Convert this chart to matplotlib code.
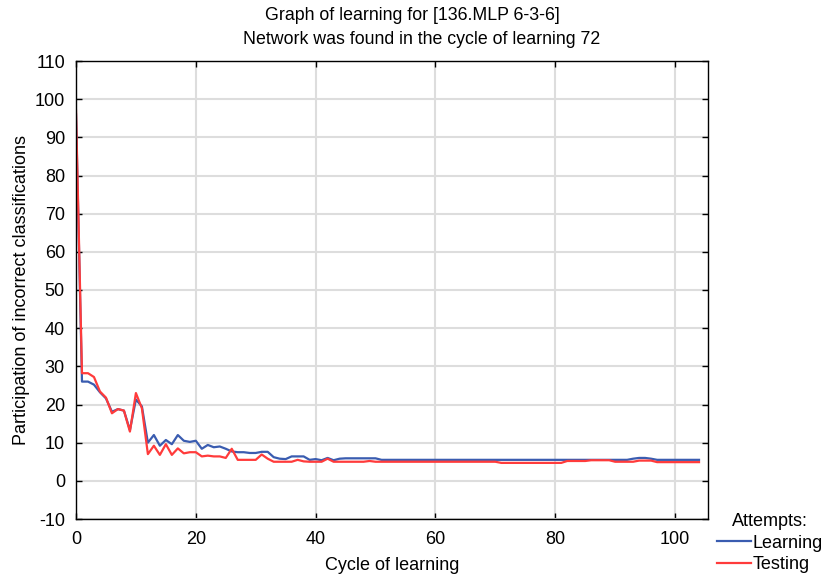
import matplotlib
matplotlib.use("Agg")
import matplotlib.pyplot as plt

plt.rcParams["font.family"] = ["Liberation Sans", "DejaVu Sans"]
plt.rcParams["axes.unicode_minus"] = False

cycles = list(range(105))

learning = [
    96, 26.0, 26.0, 25.2, 23.2, 21.6, 18.1, 18.8, 18.4, 13.3,
    21.3, 19.5, 10.0, 12.0, 9.2, 10.7, 9.6, 12.0, 10.5, 10.2,
    10.5, 8.4, 9.4, 8.8, 9.0, 8.4, 7.7, 7.5, 7.5, 7.3,
    7.3, 7.6, 7.6, 6.2, 5.8, 5.7, 6.4, 6.4, 6.4, 5.5,
    5.7, 5.4, 6.0, 5.4, 5.8, 5.9, 5.9, 5.9, 5.9, 5.9,
    5.9, 5.5, 5.5, 5.5, 5.5, 5.5, 5.5, 5.5, 5.5, 5.5,
    5.5, 5.5, 5.5, 5.5, 5.5, 5.5, 5.5, 5.5, 5.5, 5.5,
    5.5, 5.5, 5.5, 5.5, 5.5, 5.5, 5.5, 5.5, 5.5, 5.5,
    5.5, 5.5, 5.5, 5.5, 5.5, 5.5, 5.5, 5.5, 5.5, 5.5,
    5.5, 5.5, 5.5, 5.8, 6.0, 6.0, 5.8, 5.5, 5.5, 5.5,
    5.5, 5.5, 5.5, 5.5, 5.5,
]

testing = [
    97, 28.2, 28.2, 27.2, 23.4, 21.8, 17.7, 18.8, 18.4, 12.9,
    23.0, 19.0, 7.0, 9.2, 6.8, 9.6, 6.8, 8.5, 7.2, 7.5,
    7.5, 6.4, 6.6, 6.4, 6.4, 6.0, 8.4, 5.5, 5.5, 5.5,
    5.5, 6.9, 5.8, 5.0, 5.0, 5.0, 5.0, 5.5, 5.1, 5.0,
    5.0, 5.0, 5.8, 5.0, 5.0, 5.0, 5.0, 5.0, 5.0, 5.2,
    5.0, 5.0, 5.0, 5.0, 5.0, 5.0, 5.0, 5.0, 5.0, 5.0,
    5.0, 5.0, 5.0, 5.0, 5.0, 5.0, 5.0, 5.0, 5.0, 5.0,
    5.0, 4.7, 4.7, 4.7, 4.7, 4.7, 4.7, 4.7, 4.7, 4.7,
    4.7, 4.7, 5.2, 5.2, 5.2, 5.2, 5.4, 5.4, 5.4, 5.4,
    5.0, 5.0, 5.0, 5.0, 5.3, 5.3, 5.3, 4.9, 4.9, 4.9,
    4.9, 4.9, 4.9, 4.9, 4.9,
]

x_ticks = [0, 20, 40, 60, 80, 100]
y_ticks = list(range(-10, 111, 10))

fs = 13

fig = plt.figure(figsize=(8.25, 5.76), dpi=100)
ax = fig.add_axes([76 / 825, 1 - 519 / 576, (708 - 76) / 825, (519 - 61) / 576])

ax.plot(cycles, learning, color="#3a5cb0", lw=1.6, label="Learning")
ax.plot(cycles, testing, color="#ff3b3b", lw=1.6, label="Testing")

ax.set_xlim(0, 105.5)
ax.set_ylim(-10, 110)
ax.set_xticks(x_ticks)
ax.set_yticks(y_ticks)
ax.grid(True, color="#dddddd", lw=1.5)
ax.set_axisbelow(True)
ax.tick_params(direction="in", length=4, width=1, top=True, right=True,
               labeltop=False, labelright=False, labelsize=fs, colors="black")
ax.tick_params(axis="x", pad=9)
ax.tick_params(axis="y", pad=8)
for sp in ax.spines.values():
    sp.set_linewidth(1.0)
    sp.set_color("black")

ax.set_xlabel("Cycle of learning", fontsize=fs, labelpad=6)
ax.set_ylabel("Participation of incorrect classifications", fontsize=fs, labelpad=3)

fig.text(412 / 825, 1 - 15 / 576, "Graph of learning for [136.MLP 6-3-6]",
         ha="center", va="center", fontsize=12.75)
fig.text(422 / 825, 1 - 39 / 576, "Network was found in the cycle of learning 72",
         ha="center", va="center", fontsize=12.75)

leg = fig.legend(loc="upper center", bbox_to_anchor=(770 / 825, 1 - 513 / 576),
                 title="Attempts:", frameon=False, fontsize=fs, title_fontsize=fs,
                 handlelength=1.9, handletextpad=0.1, labelspacing=0.25,
                 borderpad=0.0, borderaxespad=0.0)

fig.savefig("out.png", dpi=100)
